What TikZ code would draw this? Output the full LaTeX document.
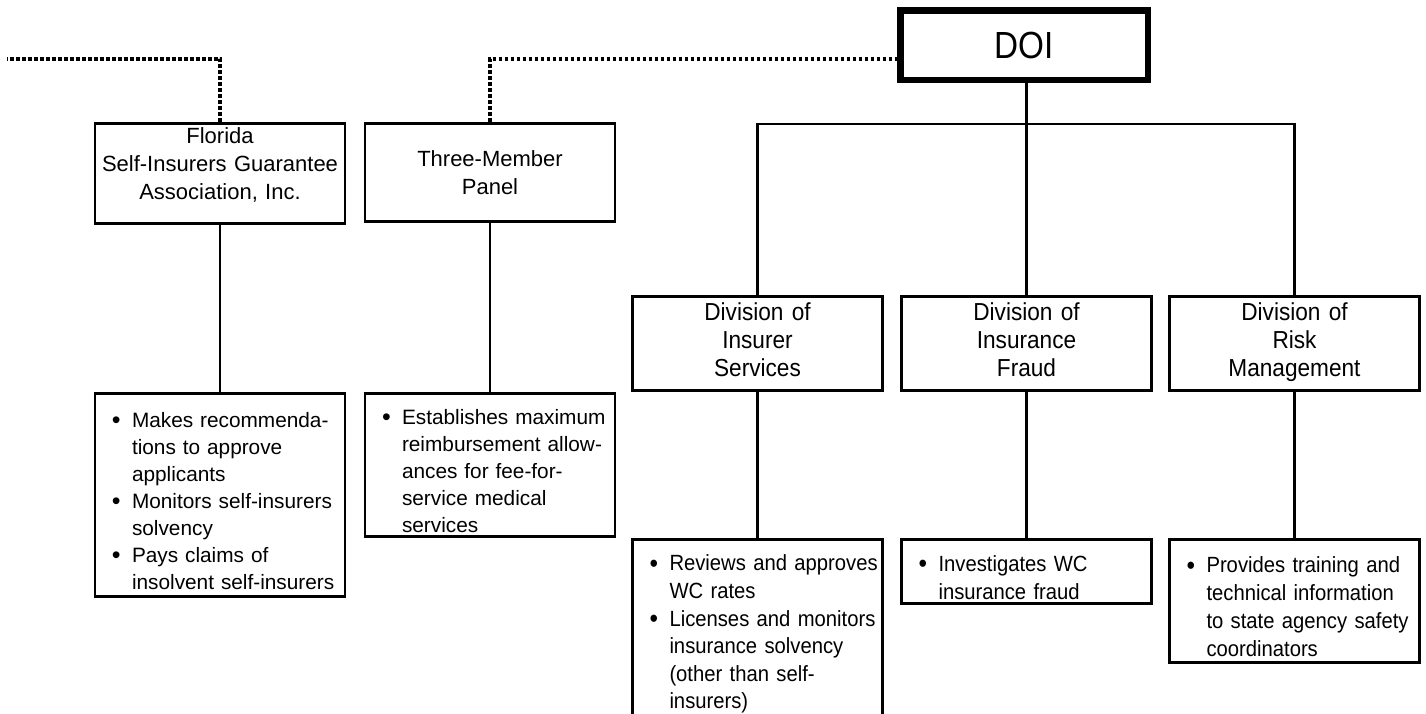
\documentclass[tikz,border=0pt]{standalone}
\usepackage{graphicx}
\usepackage{fontspec}
\setmainfont{Liberation Sans}
\newfontfamily\narrowfont{Liberation Sans}[FakeStretch=0.92]
\newfontfamily\doifont{Liberation Sans}[FakeStretch=0.88]
\newcommand{\bitem}[1]{\par\leftskip=18.5pt\noindent\hspace*{-10pt}\makebox[10pt][l]{\raisebox{-0.75pt}{\scalebox{1.2}{\textbullet}}}#1\par}
\begin{document}
\begin{tikzpicture}[x=0.5pt,y=-0.5pt,
  box/.style={draw,line width=1.3pt,minimum width=125pt,text width=125pt,inner xsep=0pt,inner ysep=2pt,anchor=north},
  head/.style={box,align=center,font=\fontsize{11}{14}\selectfont},
  divhead/.style={box,align=center,text height=10pt,text depth=33pt,font=\narrowfont\fontsize{12.3}{14.1}\selectfont},
  duties/.style={box,align=left,font=\fontsize{10.4}{13.5}\selectfont},
  divduties/.style={box,align=left,font=\narrowfont\fontsize{11}{14}\selectfont},
  link/.style={line width=1.3pt},
  dotlink/.style={line width=2pt,dash pattern=on 1.8pt off 1.2pt}]
\useasboundingbox (0,0) rectangle (1426,713);
\node[draw,line width=3.3pt,minimum width=123.8pt,minimum height=34.8pt,font=\doifont\fontsize{18.9}{20}\selectfont] (DOI) at (1024,45) {DOI};
\node[head,text height=8pt,text depth=38pt,minimum height=49.2pt] (FSIGA) at (220,122) {Florida\\Self-Insurers Guarantee\\Association, Inc.};
\node[head,minimum height=49.2pt] (TMP) at (490,122) {Three-Member\\Panel};
\node[divhead,minimum height=47.2pt] (DIS) at (757.5,295) {Division of\\Insurer\\Services};
\node[divhead,minimum height=47.2pt] (DIF) at (1026.5,295) {Division of\\Insurance\\Fraud};
\node[divhead,minimum height=47.2pt] (DRM) at (1294.5,295) {Division of\\Risk\\Management};
\node[duties,minimum height=101.7pt] (FSIGA-list) at (220,392) {\bitem{Makes recommenda-\\tions to approve\\applicants}\bitem{Monitors self-insurers\\solvency}\bitem{Pays claims of\\insolvent self-insurers}};
\node[duties,minimum height=71.2pt] (TMP-list) at (490,392) {\bitem{Establishes maximum\\reimbursement allow-\\ances for fee-for-\\service medical\\services}};
\node[divduties,minimum height=88pt,font=\narrowfont\fontsize{11}{13.8}\selectfont] (DIS-list) at (757.5,538) {\bitem{Reviews and approves\\WC rates}\bitem{Licenses and monitors\\insurance solvency\\(other than self-\\insurers)}};
\node[divduties,minimum height=28.7pt] (DIF-list) at (1026.5,538) {\bitem{Investigates WC\\insurance fraud}};
\node[divduties,minimum height=61.7pt] (DRM-list) at (1294.5,538) {\bitem{Provides training and\\technical information\\to state agency safety\\coordinators}};
\coordinate (edge) at (7,58.5);
\coordinate (bus) at (0,124);
\draw[dotlink] (FSIGA.north) |- (edge);
\draw[dotlink] (TMP.north) |- (edge -| DOI.west);
\draw[link] (DIF.north |- DOI.south) -- (DIF.north);
\draw[link] (DIS.north) |- (bus -| DRM.north) -- (DRM.north);
\foreach \a in {FSIGA,TMP,DIS,DIF,DRM}
  \draw[link] (\a.south) -- (\a-list.north);
\end{tikzpicture}
\end{document}
